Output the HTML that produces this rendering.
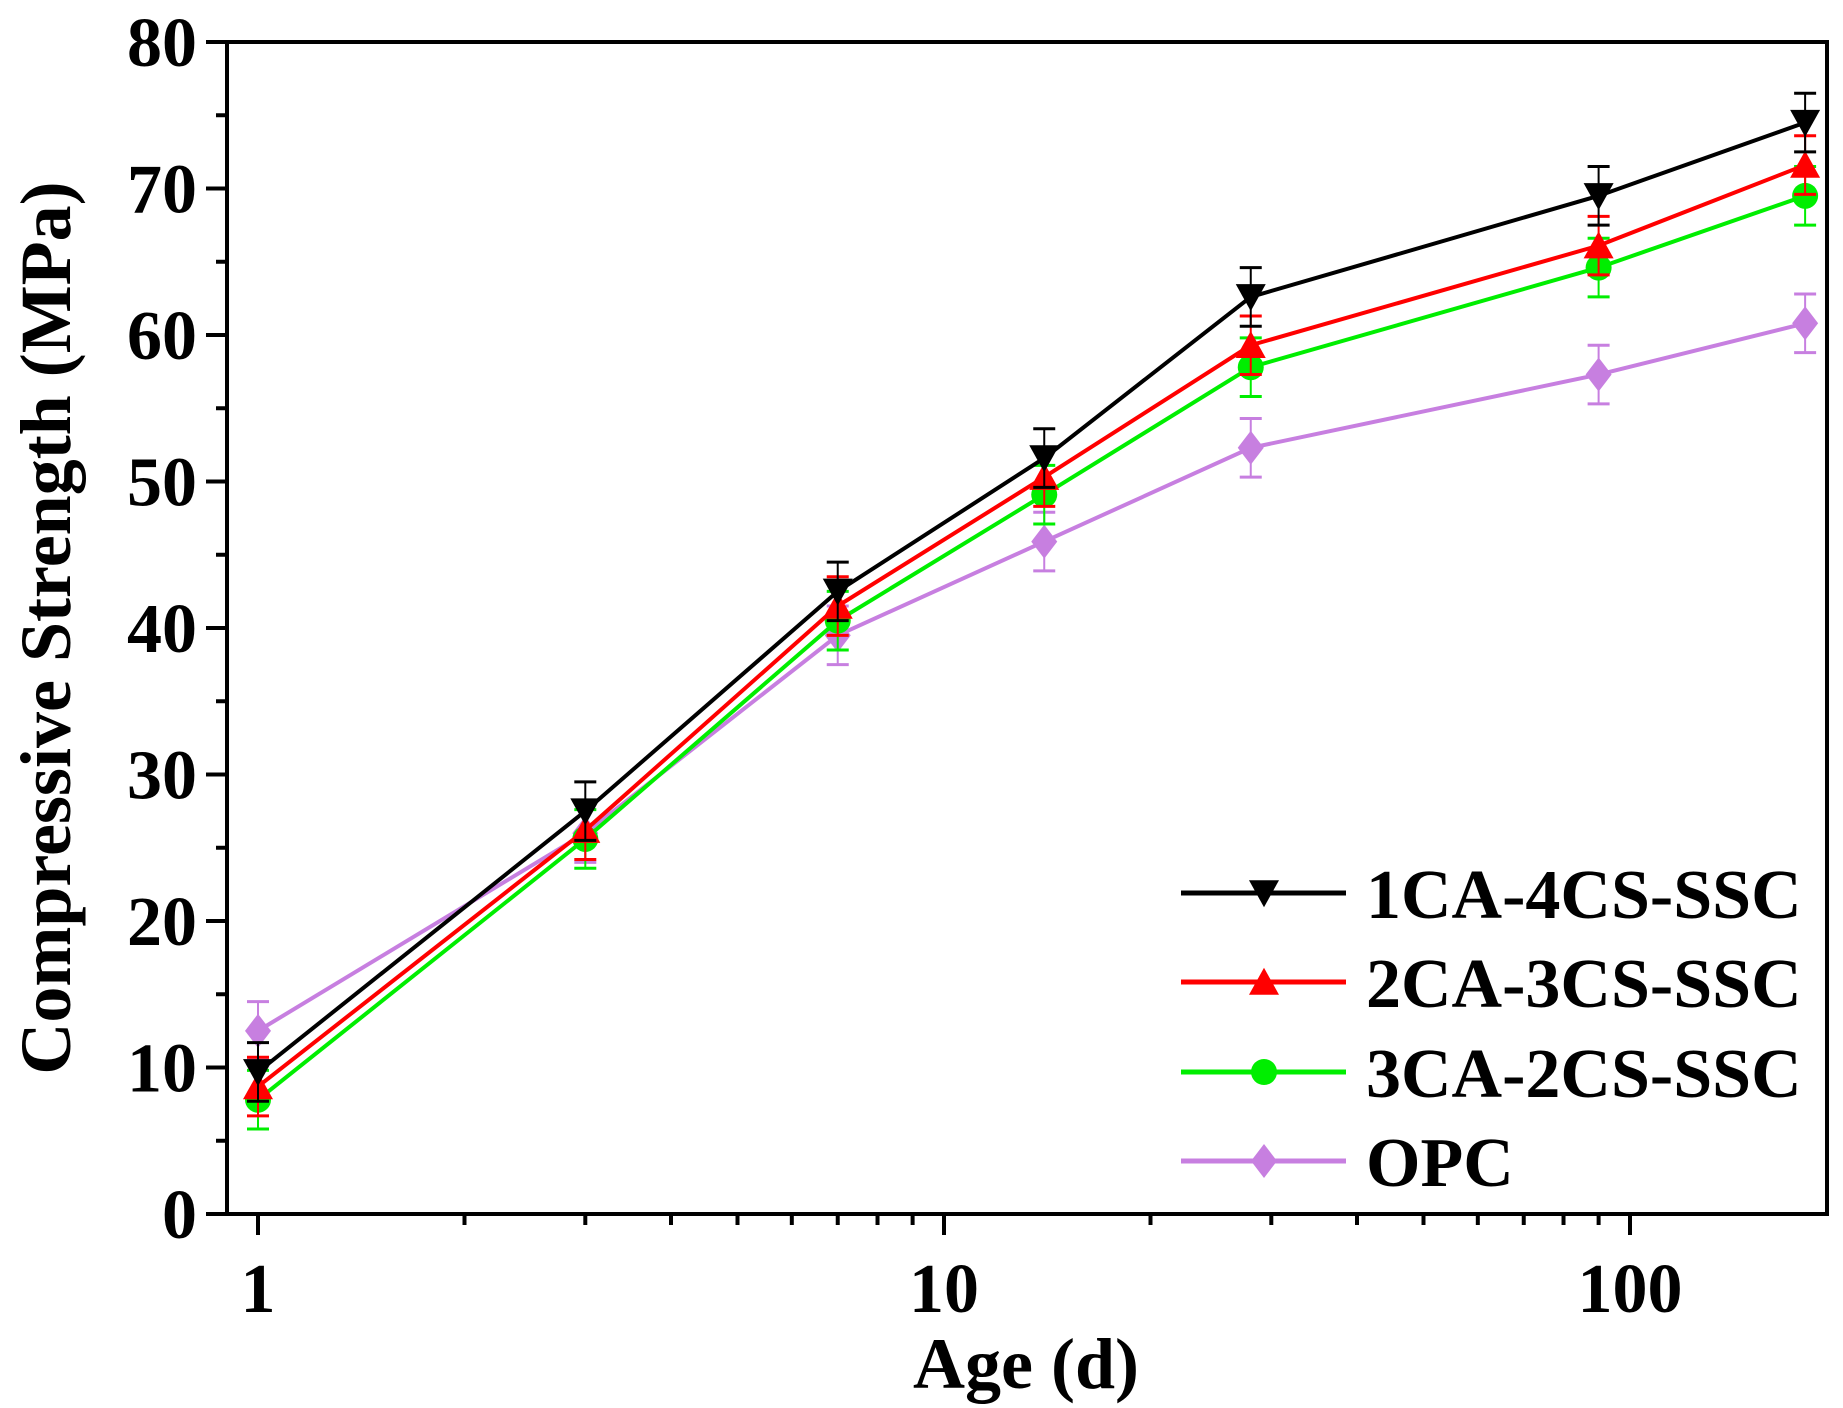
<!DOCTYPE html>
<html><head><meta charset="utf-8"><style>
body{margin:0;background:#fff}
svg{display:block;font-family:"Liberation Serif",serif;font-weight:bold}
</style></head><body>
<svg id="c" width="1843" height="1408" viewBox="0 0 1843 1408"></svg>
<script>
const ages=[1,3,7,14,28,90,180];
const s1=[9.7,27.5,42.5,51.6,62.6,69.5,74.5];
const s2=[8.7,26.2,41.5,50.3,59.3,66.1,71.6];
const s3=[7.8,25.6,40.5,49.1,57.8,64.6,69.5];
const s4=[12.5,26.0,39.5,45.9,52.3,57.3,60.8];
const e1=[2,2,2,2,2,2,2];
const e2=[2,2,2,2,2,2,2];
const e3=[2,2,2,2,2,2,2];
const e4=[2,2,2,2,2,2,2];
const names=["1CA-4CS-SSC","2CA-3CS-SSC","3CA-2CS-SSC","OPC"];
const yTicks=[0,10,20,30,40,50,60,70,80];
const xTicks=[1,10,100];
const L=227,R=1827,T=42,B=1214;
const X=v=>258+686*Math.log10(v);
const Y=v=>B-(B-T)*v/80;
const svg=document.getElementById('c');
const NS="http://www.w3.org/2000/svg";
function mk(t,a,p){const e=document.createElementNS(NS,t);for(const k in a)e.setAttribute(k,a[k]);(p||svg).appendChild(e);return e;}
let f=mk('rect',{x:L,y:T,width:R-L,height:B-T,fill:'none',stroke:'#000','stroke-width':4});


yTicks.forEach(v=>{
 let l=mk('line',{x1:L-21,x2:L,y1:Y(v),y2:Y(v),stroke:'#000','stroke-width':4});
 
 
 if(v<80){let m=mk('line',{x1:L-11,x2:L,y1:Y(v+5),y2:Y(v+5),stroke:'#000','stroke-width':4});
 
 }
 let t=mk('text',{x:L-30,y:Y(v)+24,'text-anchor':'end','font-size':70});t.textContent=v;
 
 
});
for(let d=1;d<=100;d*=10){for(let k=1;k<10;k++){const v=d*k;const x=X(v);if(x<L||x>R)continue;
 let major=k==1;let l=mk('line',{x1:x,x2:x,y1:B,y2:B+(major?21:11),stroke:'#000','stroke-width':4});
 
 }}
xTicks.forEach(v=>{let t=mk('text',{x:X(v),y:B+98,'text-anchor':'middle','font-size':70});t.textContent=v;
 
 });
let xt=mk('text',{x:1026,y:1388,'text-anchor':'middle','font-size':72});xt.textContent='Age (d)';


let yt=mk('text',{x:0,y:0,'text-anchor':'middle','font-size':72,transform:'translate(70,628) rotate(-90)'});yt.textContent='Compressive Strength (MPa)';


function marker(type,x,y,c,g){const r=15;let e;
 if(type=='down')e=mk('polygon',{points:`${x-r},${y-r*0.85} ${x+r},${y-r*0.85} ${x},${y+r*0.95}`,fill:c},g);
 else if(type=='up')e=mk('polygon',{points:`${x-r},${y+r*0.85} ${x+r},${y+r*0.85} ${x},${y-r*0.95}`,fill:c},g);
 else if(type=='circle')e=mk('circle',{cx:x,cy:y,r:13,fill:c},g);
 else e=mk('polygon',{points:`${x},${y-17} ${x+13},${y} ${x},${y+17} ${x-13},${y}`,fill:c},g);
 return e;}
const series=[[s1,e1,'#000','down'],[s2,e2,'#ff0000','up'],[s3,e3,'#00ee00','circle'],[s4,e4,'#c77fe0','diamond']];
series.slice().reverse().forEach(([s,e,c,m],ri)=>{
 const i=3-ri;
 const g=mk('g',{});
 
 
 s.forEach((v,j)=>{const x=X(ages[j]);
  mk('line',{x1:x,x2:x,y1:Y(v+e[j]),y2:Y(v-e[j]),stroke:c,'stroke-width':2},g);
  mk('line',{x1:x-11,x2:x+11,y1:Y(v+e[j]),y2:Y(v+e[j]),stroke:c,'stroke-width':3},g);
  mk('line',{x1:x-11,x2:x+11,y1:Y(v-e[j]),y2:Y(v-e[j]),stroke:c,'stroke-width':3},g);});
 mk('polyline',{points:s.map((v,j)=>X(ages[j])+','+Y(v)).join(' '),fill:'none',stroke:c,'stroke-width':4},g);
 s.forEach((v,j)=>{let p=marker(m,X(ages[j]),Y(v),c,g);
  
  });
});
const ly=[893,982,1072,1161];
series.forEach(([s,e,c,m],i)=>{
 const g=mk('g',{});
 
 
 mk('line',{x1:1181,x2:1346,y1:ly[i],y2:ly[i],stroke:c,'stroke-width':5},g);
 marker(m,1264,ly[i],c,g);
 let t=mk('text',{x:1366,y:ly[i]+25,'font-size':70},g);t.textContent=names[i];
});
</script>
</body></html>
